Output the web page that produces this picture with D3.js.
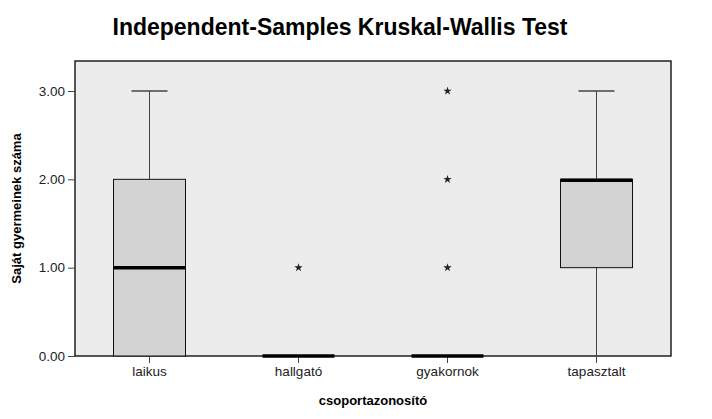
<!DOCTYPE html><html><head><meta charset="utf-8"><script src="https://cdn.jsdelivr.net/npm/d3@7"></script>
<style>body{margin:0;background:#fff}text{font-family:Arial,"Liberation Sans",sans-serif}</style></head><body><svg id="c" width="712" height="419"></svg><script>
const categories=["laikus","hallgató","gyakornok","tapasztalt"];
const q1=[0,0,0,1];
const medians=[1,0,0,1.99];
const q3=[2,0,0,2];
const whiskLow=[0,0,0,0];
const whiskHigh=[3,0,0,3];
const outliers=[[],[1],[1,2,3],[]];
const yTicks=[0,1,2,3];
const svg=d3.select("#c");
const L=75,R=671,T=61,B=356;
const x=d3.scaleBand().domain(categories).range([L,R]);
const y=d3.scaleLinear().domain([0,3]).range([B,91]);
svg.append("rect").attr("x",L).attr("y",T).attr("width",R-L).attr("height",B-T).attr("fill","#ececec").attr("stroke","#000").attr("stroke-width",1.3);
svg.append("g").attr("transform",`translate(${L},0)`).call(d3.axisLeft(y).tickValues(yTicks).tickFormat(d3.format(".2f")).tickSize(7).tickSizeOuter(0)).call(g=>{g.select(".domain").remove();g.selectAll("text").attr("font-size",13.5).attr("fill","#222").attr("font-family","Arial,Liberation Sans,sans-serif");g.selectAll("line").attr("stroke","#444");});
svg.append("g").attr("transform",`translate(0,${B})`).call(d3.axisBottom(x).tickSize(7).tickSizeOuter(0)).call(g=>{g.select(".domain").remove();g.selectAll("text").attr("font-size",13.5).attr("fill","#222").attr("font-family","Arial,Liberation Sans,sans-serif");g.selectAll("line").attr("stroke","#444");});
const bw=72,cw=36;
categories.forEach((c,i)=>{
 const cx=x(c)+x.bandwidth()/2;
 const g=svg.append("g");
 if(whiskHigh[i]>q3[i]){g.append("line").attr("x1",cx).attr("x2",cx).attr("y1",y(q3[i])).attr("y2",y(whiskHigh[i])).attr("stroke","#444");
  g.append("line").attr("x1",cx-cw/2).attr("x2",cx+cw/2).attr("y1",y(whiskHigh[i])).attr("y2",y(whiskHigh[i])).attr("stroke","#444").attr("stroke-width",1.3);}
 if(whiskLow[i]<q1[i]){g.append("line").attr("x1",cx).attr("x2",cx).attr("y1",y(q1[i])).attr("y2",y(whiskLow[i])).attr("stroke","#444");}
 if(q3[i]>q1[i])g.append("rect").attr("x",cx-bw/2).attr("width",bw).attr("y",y(q3[i])).attr("height",y(q1[i])-y(q3[i])).attr("fill","#d3d3d3").attr("stroke","#111").attr("stroke-width",1);
 g.append("line").attr("x1",cx-bw/2).attr("x2",cx+bw/2).attr("y1",y(medians[i])).attr("y2",y(medians[i])).attr("stroke","#000").attr("stroke-width",3.5);
 outliers[i].forEach(v=>g.append("path").attr("d",d3.symbol(d3.symbolStar,22)()).attr("transform",`translate(${cx},${y(v)})`).attr("fill","#222"));
});
svg.append("text").attr("x",340).attr("y",35).attr("text-anchor","middle").attr("font-size",23).attr("font-weight","bold").text("Independent-Samples Kruskal-Wallis Test");
svg.append("text").attr("transform","rotate(-90)").attr("x",-(T+B)/2).attr("y",21).attr("text-anchor","middle").attr("font-size",13).attr("font-weight","bold").text("Saját gyermeinek száma");
svg.append("text").attr("x",(L+R)/2).attr("y",405).attr("text-anchor","middle").attr("font-size",13).attr("font-weight","bold").text("csoportazonosító");
</script></body></html>
